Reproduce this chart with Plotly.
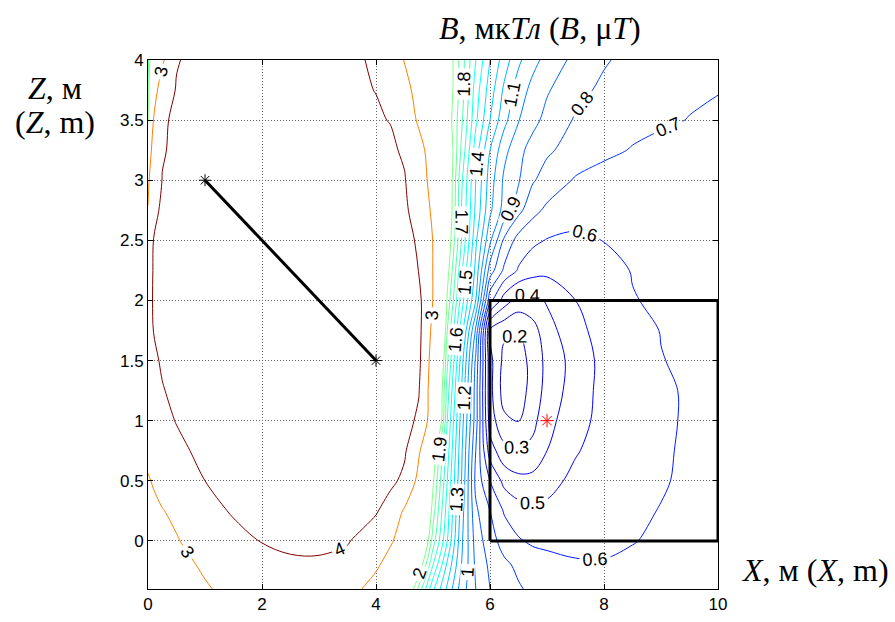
import plotly.graph_objects as go

# grid nodes (m)
x_nodes = [0, 0.1, 0.25, 0.5, 1, 1.5, 2, 2.5, 3, 3.5, 4, 4.25, 4.5, 4.75, 5, 5.25,
           5.5, 5.75, 6, 6.25, 6.5, 6.75, 7, 7.5, 8, 8.5, 9, 9.5, 10]
z_nodes = [-0.4, -0.2, 0, 0.25, 0.5, 0.75, 1.0, 1.25, 1.5, 1.75, 2.0, 2.25, 2.5,
           2.75, 3.0, 3.25, 3.5, 3.75, 4.0]

# B, uT (rows follow z_nodes, columns follow x_nodes)
B_zm040 = [2.3, 2.36, 2.45, 2.6, 2.93, 3.2, 3.42, 3.55, 3.5, 3.25, 2.75, 2.5, 2.22, 1.87, 1.52, 1.28, 1.05, 0.9, 0.8, 0.76, 0.71, 0.68, 0.66, 0.64, 0.635, 0.635, 0.64, 0.645, 0.65]
B_zm020 = [2.45, 2.52, 2.62, 2.78, 3.1, 3.45, 3.72, 3.88, 3.9, 3.72, 3.1, 2.75, 2.45, 2.1, 1.7, 1.38, 1.1, 0.88, 0.78, 0.72, 0.68, 0.65, 0.63, 0.61, 0.605, 0.61, 0.618, 0.625, 0.63]
B_z000 = [2.6, 2.68, 2.8, 2.95, 3.35, 3.75, 4.03, 4.15, 4.15, 4.06, 3.5, 3.08, 2.7, 2.3, 1.85, 1.5, 1.12, 0.86, 0.74, 0.66, 0.61, 0.585, 0.58, 0.575, 0.585, 0.598, 0.608, 0.617, 0.625]
B_z025 = [2.8, 2.88, 2.97, 3.15, 3.72, 4.08, 4.3, 4.4, 4.4, 4.3, 4.08, 3.6, 2.9, 2.4, 1.95, 1.55, 1.15, 0.82, 0.7, 0.59, 0.54, 0.52, 0.525, 0.55, 0.575, 0.59, 0.602, 0.612, 0.62]
B_z050 = [2.95, 3.05, 3.25, 3.55, 4.0, 4.3, 4.5, 4.6, 4.6, 4.5, 4.3, 4.2, 3.8, 2.75, 2.02, 1.6, 1.2, 0.77, 0.6, 0.47, 0.43, 0.43, 0.46, 0.53, 0.565, 0.58, 0.595, 0.61, 0.62]
B_z075 = [3.15, 3.3, 3.55, 3.82, 4.2, 4.5, 4.7, 4.8, 4.8, 4.7, 4.5, 4.35, 4.12, 3.1, 2.1, 1.65, 1.22, 0.8, 0.45, 0.33, 0.305, 0.33, 0.4, 0.49, 0.55, 0.575, 0.593, 0.608, 0.62]
B_z100 = [3.35, 3.55, 3.8, 4.03, 4.4, 4.65, 4.85, 4.95, 4.95, 4.85, 4.65, 4.5, 4.3, 3.85, 2.45, 1.7, 1.25, 0.85, 0.35, 0.22, 0.198, 0.27, 0.37, 0.46, 0.535, 0.565, 0.59, 0.607, 0.615]
B_z125 = [3.5, 3.7, 3.95, 4.2, 4.55, 4.8, 4.98, 5.08, 5.08, 4.98, 4.8, 4.65, 4.45, 4.05, 2.45, 1.75, 1.3, 0.85, 0.33, 0.155, 0.15, 0.24, 0.335, 0.45, 0.53, 0.565, 0.59, 0.607, 0.615]
B_z150 = [3.62, 3.85, 4.1, 4.3, 4.65, 4.9, 5.05, 5.15, 5.15, 5.05, 4.9, 4.75, 4.55, 4.2, 2.55, 1.82, 1.35, 0.88, 0.33, 0.17, 0.16, 0.23, 0.33, 0.44, 0.53, 0.56, 0.598, 0.61, 0.62]
B_z175 = [3.7, 4.02, 4.2, 4.4, 4.72, 4.95, 5.1, 5.2, 5.2, 5.1, 4.95, 4.8, 4.6, 4.25, 2.75, 1.9, 1.45, 0.98, 0.28, 0.22, 0.205, 0.26, 0.36, 0.47, 0.54, 0.575, 0.602, 0.615, 0.625]
B_z200 = [3.72, 4.07, 4.25, 4.45, 4.75, 4.95, 5.1, 5.2, 5.2, 5.1, 4.95, 4.8, 4.6, 4.22, 2.98, 1.98, 1.55, 1.2, 0.63, 0.45, 0.36, 0.37, 0.41, 0.5, 0.57, 0.595, 0.615, 0.625, 0.635]
B_z225 = [3.7, 4.05, 4.25, 4.45, 4.72, 4.92, 5.05, 5.12, 5.12, 5.0, 4.85, 4.72, 4.5, 3.98, 2.98, 2.05, 1.62, 1.27, 0.85, 0.68, 0.59, 0.54, 0.525, 0.53, 0.56, 0.605, 0.625, 0.635, 0.64]
B_z250 = [3.6, 4.02, 4.2, 4.4, 4.65, 4.85, 4.95, 5.0, 5.0, 4.9, 4.72, 4.58, 4.35, 3.85, 2.98, 2.1, 1.7, 1.32, 1.02, 0.78, 0.66, 0.62, 0.595, 0.585, 0.602, 0.61, 0.62, 0.63, 0.64]
B_z275 = [3.02, 3.85, 4.1, 4.3, 4.55, 4.72, 4.82, 4.85, 4.85, 4.75, 4.55, 4.4, 4.15, 3.6, 2.85, 2.15, 1.7, 1.38, 1.12, 0.96, 0.83, 0.73, 0.68, 0.635, 0.625, 0.625, 0.63, 0.64, 0.645]
B_z300 = [2.9, 3.4, 4.02, 4.2, 4.4, 4.55, 4.65, 4.68, 4.65, 4.52, 4.3, 4.15, 4.05, 3.4, 2.72, 2.15, 1.72, 1.4, 1.15, 0.98, 0.91, 0.81, 0.76, 0.69, 0.665, 0.655, 0.65, 0.655, 0.66]
B_z325 = [2.4, 3.4, 3.95, 4.12, 4.3, 4.42, 4.5, 4.52, 4.48, 4.35, 4.15, 4.12, 3.9, 3.25, 2.65, 2.15, 1.78, 1.45, 1.2, 1.03, 0.93, 0.86, 0.815, 0.76, 0.72, 0.695, 0.68, 0.675, 0.675]
B_z350 = [1.95, 3.05, 3.92, 4.1, 4.22, 4.32, 4.38, 4.4, 4.35, 4.22, 4.06, 3.98, 3.45, 2.9, 2.5, 2.08, 1.82, 1.52, 1.3, 1.13, 1.005, 0.93, 0.87, 0.79, 0.75, 0.725, 0.71, 0.698, 0.69]
B_z375 = [1.9, 2.6, 3.5, 4.05, 4.18, 4.25, 4.28, 4.28, 4.22, 4.1, 3.99, 3.7, 3.2, 2.78, 2.45, 2.1, 1.85, 1.55, 1.35, 1.18, 1.05, 0.97, 0.91, 0.83, 0.78, 0.745, 0.725, 0.71, 0.702]
B_z400 = [1.85, 2.3, 2.85, 3.95, 4.3, 4.3, 4.3, 4.28, 4.2, 4.08, 3.95, 3.45, 2.97, 2.7, 2.4, 2.1, 1.85, 1.6, 1.4, 1.25, 1.12, 1.03, 0.97, 0.87, 0.81, 0.77, 0.75, 0.73, 0.72]

B_grid = [B_zm040, B_zm020, B_z000, B_z025, B_z050, B_z075, B_z100, B_z125, B_z150,
          B_z175, B_z200, B_z225, B_z250, B_z275, B_z300, B_z325, B_z350, B_z375, B_z400]

# contour levels
low_levels = [round(0.2 + 0.1 * i, 1) for i in range(19)]   # 0.2 ... 2.0
high_levels = [3, 4]

# objects
cond_x = [1, 4]
cond_z = [3, 1.5]
box_x = [6, 10, 10, 6, 6]
box_z = [0, 0, 2, 2, 0]
point_x = [7]
point_z = [1]

x_ticks = [0, 2, 4, 6, 8, 10]
z_ticks = [0, 0.5, 1, 1.5, 2, 2.5, 3, 3.5, 4]
z_tick_text = ['0', '0.5', '1', '1.5', '2', '2.5', '3', '3.5', '4']

C_MIN, C_MAX = 0.0, 4.0


def jet(t):
    def c(v):
        return int(round(255 * min(1.0, max(0.0, v))))
    return 'rgb(%d,%d,%d)' % (c(1.5 - abs(4 * t - 3)), c(1.5 - abs(4 * t - 2)),
                              c(1.5 - abs(4 * t - 1)))


def scale_for(levels):
    lo, hi = levels[0], levels[-1]
    return [[(v - lo) / (hi - lo), jet((v - C_MIN) / (C_MAX - C_MIN))] for v in levels]


label_font = dict(family='Liberation Sans, Arial', size=18, color='black')

fig = go.Figure()
fig.add_trace(go.Contour(
    x=x_nodes, y=z_nodes, z=B_grid,
    contours=dict(start=low_levels[0], end=low_levels[-1] + 0.001, size=0.1,
                  coloring='lines', showlabels=True, labelfont=label_font,
                  labelformat='.1~f'),
    colorscale=scale_for(low_levels), showscale=False,
    line=dict(width=1), hoverinfo='skip'))
fig.add_trace(go.Contour(
    x=x_nodes, y=z_nodes, z=B_grid,
    contours=dict(start=high_levels[0], end=high_levels[-1], size=1,
                  coloring='lines', showlabels=True, labelfont=label_font,
                  labelformat='.1~f'),
    colorscale=scale_for(high_levels), showscale=False,
    line=dict(width=1), hoverinfo='skip'))

fig.add_trace(go.Scatter(x=box_x, y=box_z, mode='lines',
                         line=dict(color='black', width=3), showlegend=False))
fig.add_trace(go.Scatter(x=cond_x, y=cond_z, mode='lines+markers',
                         line=dict(color='black', width=3),
                         marker=dict(symbol='asterisk-open', size=10, color='black',
                                     line=dict(color='black', width=1)),
                         showlegend=False))
fig.add_trace(go.Scatter(x=point_x, y=point_z, mode='markers',
                         marker=dict(symbol='asterisk-open', size=11, color='red',
                                     line=dict(color='red', width=1)),
                         showlegend=False))

axis_common = dict(showline=True, linecolor='black', linewidth=1, mirror='ticks',
                   ticks='inside', ticklen=5, tickcolor='black',
                   showgrid=True, gridcolor='#666666', griddash='1px,2px', gridwidth=1,
                   zeroline=False, automargin=False,
                   tickfont=dict(family='Liberation Sans, Arial', size=17, color='black'))

fig.update_xaxes(range=[0, 10], tickvals=x_ticks, ticktext=[str(v) for v in x_ticks],
                 **axis_common)
fig.update_yaxes(range=[-0.4, 4], tickvals=z_ticks, ticktext=z_tick_text,
                 **axis_common)

serif = dict(family='Liberation Serif, Times New Roman', size=32, color='black')
fig.update_layout(
    width=895, height=622,
    margin=dict(l=148, r=177, t=60, b=33),
    paper_bgcolor='white', plot_bgcolor='white',
    showlegend=False,
    annotations=[
        dict(text='<i>B</i>, мк<i>Тл</i> (<i>B</i>, μ<i>T</i>)', xref='paper', yref='paper',
             x=0.688, y=1.0605, showarrow=False, font=serif, xanchor='center', yanchor='middle'),
        dict(text='<i>Z</i>, м', xref='paper', yref='paper', x=-0.163, y=0.947,
             showarrow=False, font=serif, xanchor='center', yanchor='middle'),
        dict(text='(<i>Z</i>, m)', xref='paper', yref='paper', x=-0.163, y=0.883,
             showarrow=False, font=serif, xanchor='center', yanchor='middle'),
        dict(text='<i>X</i>, м (<i>X</i>, m)', xref='paper', yref='paper', x=1.170, y=0.036,
             showarrow=False, font=serif, xanchor='center', yanchor='middle'),
    ])

fig.write_html('out.html')
